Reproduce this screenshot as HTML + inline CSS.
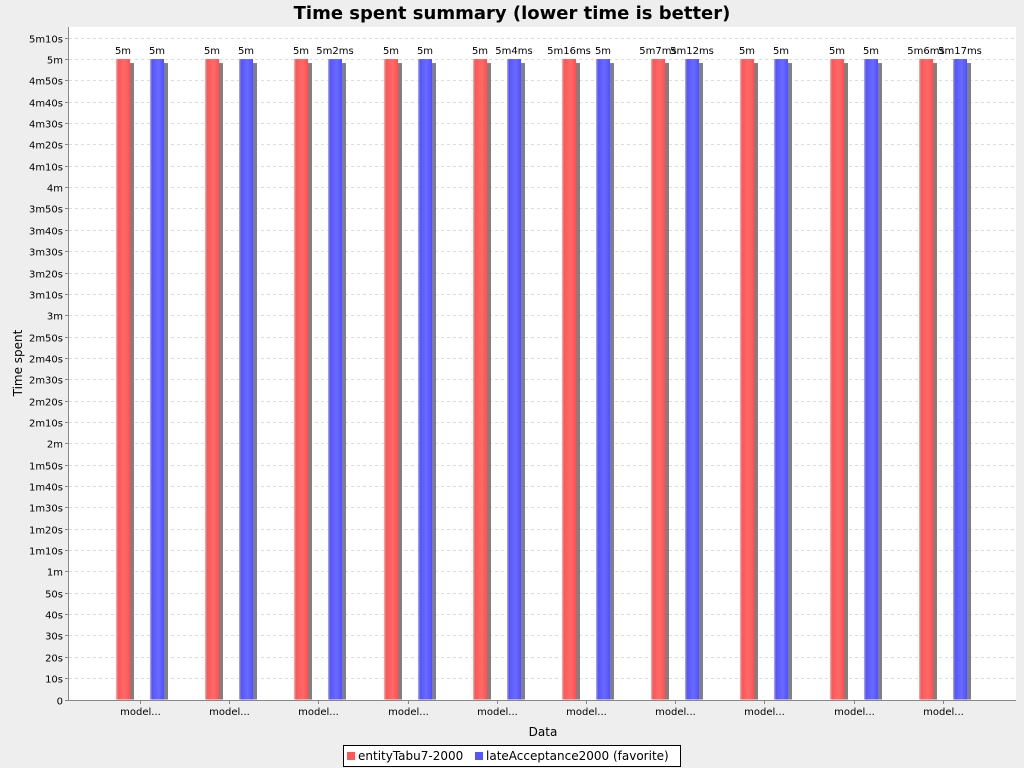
<!DOCTYPE html>
<html><head><meta charset="utf-8"><style>
body{margin:0;background:#eeeeee;width:1024px;height:768px;overflow:hidden;font-family:"DejaVu Sans","Liberation Sans",sans-serif;}
</style></head><body>
<svg id="chart" width="1024" height="768" xmlns="http://www.w3.org/2000/svg" style="position:absolute;left:0;top:0">
<defs>
<linearGradient id="gr" x1="0" x2="1" y1="0" y2="0"><stop offset="0" stop-color="#ffb0b0"/><stop offset="0.15" stop-color="#ff5555"/><stop offset="0.6" stop-color="#ff6a6a"/><stop offset="1" stop-color="#ff5050"/></linearGradient>
<linearGradient id="gb" x1="0" x2="1" y1="0" y2="0"><stop offset="0" stop-color="#b0b0ff"/><stop offset="0.15" stop-color="#5555ff"/><stop offset="0.6" stop-color="#6a6aff"/><stop offset="1" stop-color="#5050ff"/></linearGradient>
</defs>
<text x="512" y="19" text-anchor="middle" font-size="18" font-weight="bold" fill="#000">Time spent summary (lower time is better)</text>
<rect x="69" y="27" width="947" height="673" fill="#ffffff"/>
<g id="grid"></g><g id="bars"></g><g id="yaxis"></g><g id="xaxis"></g>
<line x1="68.5" y1="27" x2="68.5" y2="700" stroke="#888"/>
<line x1="69" y1="700.5" x2="1016" y2="700.5" stroke="#888"/>
<text transform="translate(22,363) rotate(-90)" text-anchor="middle" font-size="12">Time spent</text>
<text x="543" y="736" text-anchor="middle" font-size="12">Data</text>
<g>
<rect x="343.5" y="745.5" width="337" height="21" fill="#fff" stroke="#000"/>
<rect x="347" y="752" width="8" height="8" fill="#ff5555"/>
<text x="358" y="760" font-size="12">entityTabu7-2000</text>
<rect x="475" y="752" width="8" height="8" fill="#5555ff"/>
<text x="486" y="760" font-size="12">lateAcceptance2000 (favorite)</text>
</g>
</svg>
<script>
const categories=["model...","model...","model...","model...","model...","model...","model...","model...","model...","model..."];
const seriesNames=["entityTabu7-2000","lateAcceptance2000 (favorite)"];
const tabuMs=[300000,300000,300000,300000,300000,300016,300007,300000,300000,300006];
const lateMs=[300000,300000,300002,300000,300004,300000,300012,300000,300000,300017];
const yTickSeconds=[0,10,20,30,40,50,60,70,80,90,100,110,120,130,140,150,160,170,180,190,200,210,220,230,240,250,260,270,280,290,300,310];
const NS="http://www.w3.org/2000/svg";
const y0=699.5,yTop=37.7,maxS=310;
function yS(s){return y0-(s/maxS)*(y0-yTop);}
function xC(i){return 140+i*89.2;}
function fmt(ms){const m=Math.floor(ms/60000),s=Math.floor(ms%60000/1000),r=ms%1000;let t="";if(m)t+=m+"m";if(s)t+=s+"s";if(r)t+=r+"ms";return t||"0";}
function el(tag,a,p){const e=document.createElementNS(NS,tag);for(const k in a)e.setAttribute(k,a[k]);p.appendChild(e);return e;}
const grid=document.getElementById("grid"),ya=document.getElementById("yaxis"),xa=document.getElementById("xaxis"),bars=document.getElementById("bars");
yTickSeconds.forEach(s=>{const y=Math.round(yS(s))+0.5;
 const g=el("line",{x1:69,x2:1016,y1:y,y2:y,stroke:"#dddddd","stroke-dasharray":"3,3"},grid);
 
 
 el("line",{x1:65,x2:69,y1:y,y2:y,stroke:"#888"},ya);
 const t=el("text",{x:63,y:y+4,"text-anchor":"end","font-size":"10"},ya);
 
 
 t.textContent=s===0?"0":fmt(s*1000);});
categories.forEach((c,i)=>{const x=Math.round(xC(i))+0.5;
 el("line",{x1:x,x2:x,y1:700,y2:704,stroke:"#888"},xa);
 const t=el("text",{x:x,y:715,"text-anchor":"middle","font-size":"10"},xa);
 
 
 t.textContent=c;
 [[tabuMs,-24,"url(#gr)"],[lateMs,10,"url(#gb)"]].forEach(([arr,off,fill],si)=>{
  const bx=Math.round(xC(i)+off),by=yS(arr[i]/1000);
  const sh=el("rect",{x:bx+4,y:by+4,width:14,height:y0-by-4,fill:"#808080"},bars);
  
  
  const r=el("rect",{x:bx,y:by,width:14,height:y0-by,fill:fill},bars);
  
  
  const l=el("text",{x:bx+7,y:by-5,"text-anchor":"middle","font-size":"10"},bars);
  
  
  l.textContent=fmt(arr[i]);});});
</script>
</body></html>
